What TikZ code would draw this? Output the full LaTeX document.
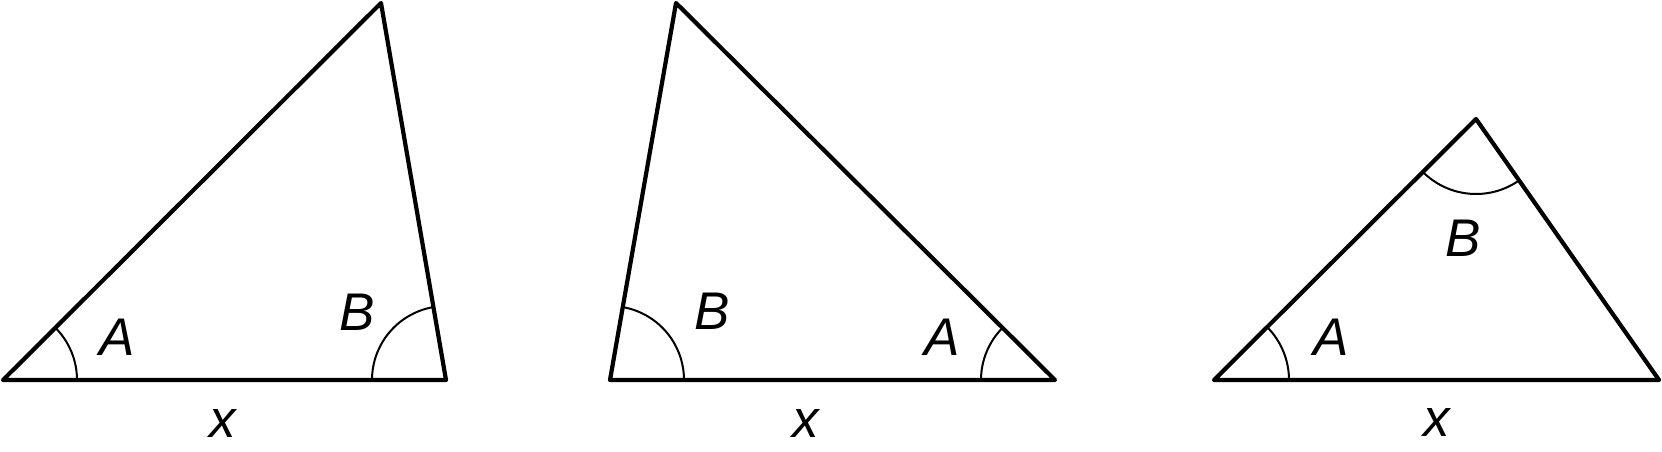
\documentclass[tikz,border=0pt]{standalone}
\usepackage{fontspec}
\setmainfont{Liberation Sans}
\usetikzlibrary{angles}
\begin{document}
\begin{tikzpicture}[x=1pt,y=1pt,
  side/.style={line width=4.2pt,line join=round,line cap=round},
  anglemark/.style={draw,line width=2pt,angle radius=74pt},
  lbl/.style={font=\fontsize{53}{60}\selectfont\itshape,inner sep=0pt,anchor=base}]
\useasboundingbox (0,0) rectangle (1662,451);
% triangle 1
\coordinate (p1) at (3,71);
\coordinate (q1) at (446,71);
\coordinate (r1) at (381,448);
\draw[side] (p1) -- (q1) -- (r1) -- cycle;
\pic[anglemark] {angle = q1--p1--r1};
\pic[anglemark] {angle = r1--q1--p1};
\node[lbl] (a1) at (117,96) {A};
\node[lbl] (b1) at (357,121) {B};
\node[lbl] (x1) at (223,14) {x};
% triangle 2
\coordinate (p2) at (610,71);
\coordinate (q2) at (1055,71);
\coordinate (r2) at (676,448);
\draw[side] (p2) -- (q2) -- (r2) -- cycle;
\pic[anglemark] {angle = q2--p2--r2};
\pic[anglemark] {angle = r2--q2--p2};
\node[lbl] (b2) at (712,122) {B};
\node[lbl] (a2) at (942,96) {A};
\node[lbl] (x2) at (806,14) {x};
% triangle 3
\coordinate (p3) at (1214,71);
\coordinate (q3) at (1659,71);
\coordinate (r3) at (1476,332);
\draw[side] (p3) -- (q3) -- (r3) -- cycle;
\pic[anglemark,angle radius=75pt] {angle = q3--p3--r3};
\pic[anglemark,angle radius=75pt] {angle = p3--r3--q3};
\node[lbl] (a3) at (1331,96) {A};
\node[lbl] (b3) at (1463,195) {B};
\node[lbl] (x3) at (1437,15) {x};
\end{tikzpicture}
\end{document}
